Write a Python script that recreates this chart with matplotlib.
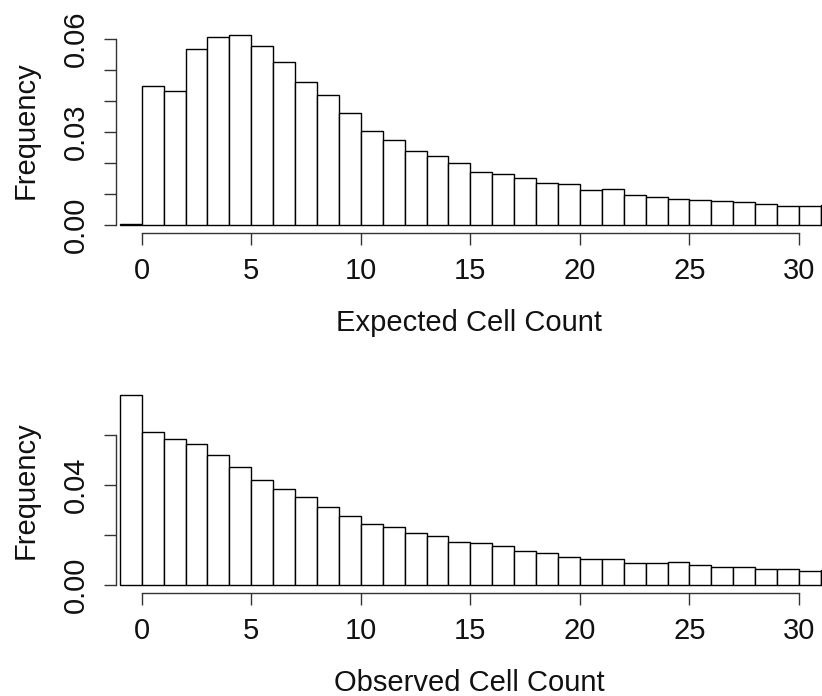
import numpy as np
import matplotlib.pyplot as plt

###
### Data (density per unit-width bin, bins start at -1)
###
bin_left = np.arange(-1, 32)
expected_freq = [0.0002, 0.0449, 0.0433, 0.0566, 0.0605, 0.0612, 0.0577, 0.0525,
                 0.0461, 0.0419, 0.0361, 0.0302, 0.0275, 0.0239, 0.0223, 0.0199,
                 0.0171, 0.0165, 0.0151, 0.0135, 0.0132, 0.0112, 0.0115, 0.0096,
                 0.0089, 0.0084, 0.0081, 0.0077, 0.0073, 0.0068, 0.0060, 0.0062,
                 0.0064]
observed_freq = [0.0760, 0.0613, 0.0584, 0.0564, 0.0519, 0.0473, 0.0420, 0.0384,
                 0.0353, 0.0311, 0.0275, 0.0245, 0.0232, 0.0209, 0.0195, 0.0172,
                 0.0167, 0.0155, 0.0136, 0.0129, 0.0113, 0.0104, 0.0104, 0.0087,
                 0.0087, 0.0091, 0.0079, 0.0071, 0.0071, 0.0064, 0.0064, 0.0057,
                 0.0058]
x_ticks = [0, 5, 10, 15, 20, 25, 30]

top_yticks = [0.00, 0.01, 0.02, 0.03, 0.04, 0.05, 0.06]
top_ylabels = ["0.00", "", "", "0.03", "", "", "0.06"]
bot_yticks = [0.00, 0.02, 0.04, 0.06]
bot_ylabels = ["0.00", "", "0.04", ""]

plt.rcParams['font.family'] = ['Liberation Sans', 'DejaVu Sans']
plt.rcParams['font.size'] = 21

W, H = 822, 696
fig = plt.figure(figsize=(W/100, H/100), dpi=100)

def r_hist(rect, heights, ylim, yticks, ylabels, xlabel):
    ax = fig.add_axes(rect)
    ax.bar(bin_left, heights, width=1, align='edge',
           facecolor='white', edgecolor='black', linewidth=1.0)
    ax.set_xlim(-1.187, 31.05)
    ax.set_ylim(*ylim)
    ax.spines['top'].set_visible(False)
    ax.spines['right'].set_visible(False)
    ax.spines['left'].set_bounds(yticks[0], yticks[-1])
    ax.spines['bottom'].set_bounds(x_ticks[0], x_ticks[-1])
    for s in ('left', 'bottom'):
        ax.spines[s].set_linewidth(1.0)
        ax.spines[s].set_color('#333333')
    ax.set_xticks(x_ticks)
    ax.set_yticks(yticks)
    ax.set_yticklabels(ylabels)
    plt.setp(ax.get_yticklabels(), rotation=90, va='center')
    ax.tick_params(direction='out', length=8.8, width=1.0, color='#333333',
                   labelcolor='#111111')
    ax.tick_params(axis='x', pad=9)
    ax.tick_params(axis='y', pad=10)
    ax.set_xlabel(xlabel, labelpad=17, color='#111111')
    ax.set_ylabel("Frequency", labelpad=16, color='#111111')
    return ax

left = 115.7/W
width = 1 - left
r_hist([left, (H-232.6)/H, width, 205.1/H], expected_freq,
       (-0.00245, 0.0636), top_yticks, top_ylabels, "Expected Cell Count")
r_hist([left, (H-592.6)/H, width, 205.2/H], observed_freq,
       (-0.00304, 0.0790), bot_yticks, bot_ylabels, "Observed Cell Count")

fig.savefig("out.png", dpi=100)
